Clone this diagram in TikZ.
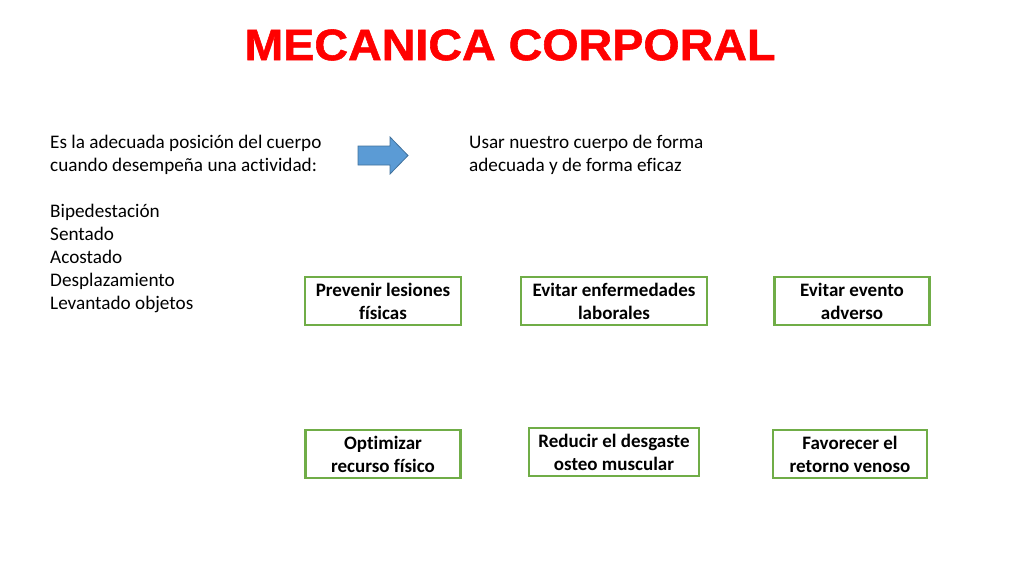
\documentclass[tikz,border=0pt]{standalone}
\usepackage{fontspec}
\setmainfont[Ligatures=NoCommon]{Carlito}
\newfontfamily\titlefont[BoldFeatures={FakeBold=1.2}]{Liberation Sans}
\definecolor{boxgreen}{HTML}{70AD47}
\definecolor{arrowfill}{HTML}{5B9BD5}
\definecolor{arrowline}{HTML}{41719C}
\definecolor{titlered}{HTML}{FF0000}
\begin{document}
\begin{tikzpicture}[x=1pt,y=-1pt,
  bodytext/.style={inner sep=0pt, align=left, font=\fontsize{19.2}{23}\selectfont, anchor=north west},
  greenbox/.style={draw=boxgreen, line width=2.6pt, align=center, font=\fontsize{19}{23}\selectfont\bfseries, inner sep=0pt, minimum height=48pt}]
\useasboundingbox (0,0) rectangle (1024,576);
\node[font=\titlefont\fontsize{44}{48}\selectfont\bfseries, text=titlered, inner sep=0pt, xscale=1.06] (title) at (510,45) {MECANICA CORPORAL};
\node[bodytext] (def) at (50,135) {Es la adecuada posición del cuerpo\\cuando desempeña una actividad:\\[23pt]Bipedestación\\Sentado\\Acostado\\Desplazamiento\\Levantado objetos};
\draw[draw=arrowline, fill=arrowfill, line width=0.8pt, line join=miter]
  (358,146) -- (390,146) -- (390,137) -- (408,155.5) -- (390,174) -- (390,165) -- (358,165) -- cycle;
\node[bodytext] (use) at (469,135) {Usar nuestro cuerpo de forma\\adecuada y de forma eficaz};
\node[greenbox, minimum width=156pt] (b1) at (383,301) {Prevenir lesiones\\físicas};
\node[greenbox, minimum width=186pt] (b2) at (614,301) {Evitar enfermedades\\laborales};
\node[greenbox, minimum width=155pt] (b3) at (852,301) {Evitar evento\\adverso};
\node[greenbox, minimum width=155pt] (b4) at (383,454) {Optimizar\\recurso físico};
\node[greenbox, minimum width=170pt] (b5) at (614,452) {Reducir el desgaste\\osteo muscular};
\node[greenbox, minimum width=154pt] (b6) at (850,454) {Favorecer el\\retorno venoso};
\end{tikzpicture}
\end{document}
